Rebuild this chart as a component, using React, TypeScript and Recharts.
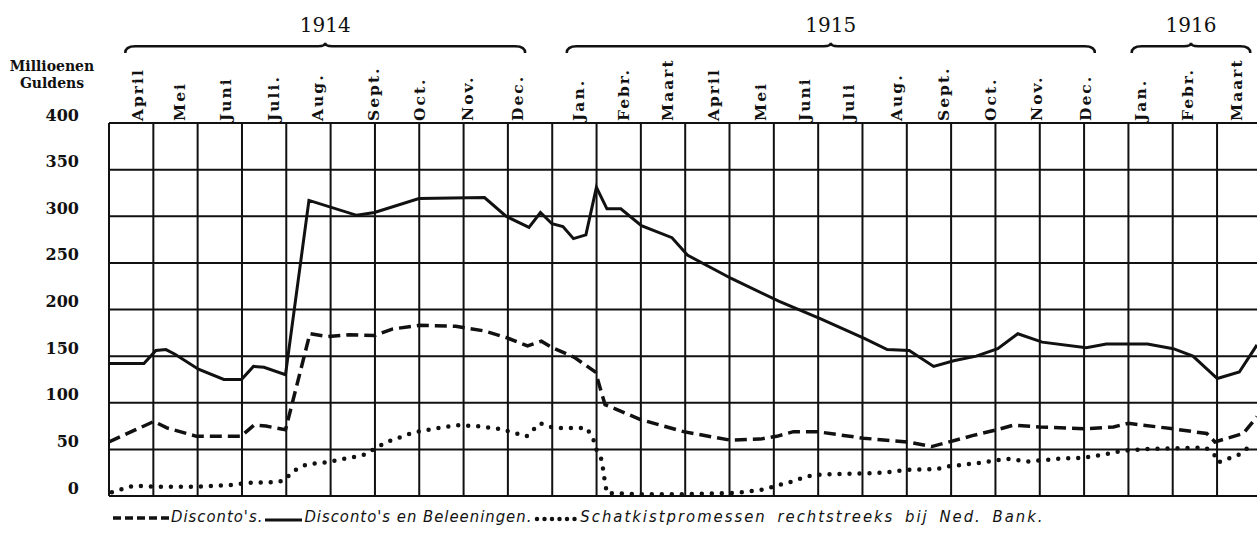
import React from 'react'
import {
  LineChart,
  Line,
  XAxis,
  YAxis,
  CartesianGrid,
  ReferenceLine,
  ReferenceArea,
} from 'recharts'

// t = months since 1 April 1914, v = millions of guilders
const disconto: [number, number][] = [
  [0, 58], [0.94, 80], [1.21, 73], [1.83, 64], [2.76, 64], [3.03, 76], [3.28, 75],
  [3.69, 71], [4.2, 174], [4.58, 171], [5.03, 173], [5.55, 172], [5.92, 179],
  [6.48, 183], [7.25, 182], [7.85, 177], [8.3, 170], [8.75, 161], [9.04, 166],
  [9.27, 159], [9.72, 149], [10.17, 133], [10.37, 98], [11.11, 82], [12.01, 69],
  [12.98, 60], [13.61, 61], [13.96, 64], [14.31, 69], [14.8, 69], [15.77, 62],
  [16.69, 58], [17.2, 53], [18.07, 65], [18.56, 71], [18.91, 76], [19.46, 74],
  [20.41, 72], [21.0, 74], [21.31, 78], [22.25, 72], [22.95, 67], [23.12, 58],
  [23.71, 67], [24, 85],
]

const discontoBeleeningen: [number, number][] = [
  [0, 142], [0.73, 142], [0.98, 156], [1.19, 157], [1.38, 152], [1.87, 136],
  [2.4, 125], [2.77, 125], [3.02, 139], [3.24, 138], [3.69, 130], [4.18, 317],
  [5.18, 301], [5.55, 304], [6.48, 319], [7.85, 320], [8.3, 300], [8.78, 288],
  [9.02, 304], [9.26, 292], [9.49, 289], [9.71, 276], [9.97, 280], [10.19, 331],
  [10.41, 308], [10.7, 308], [11.13, 290], [11.77, 277], [12.1, 258], [13.02, 233],
  [14.0, 209], [14.88, 190], [15.79, 169], [16.27, 157], [16.73, 156], [17.24, 139],
  [17.66, 145], [18.13, 150], [18.58, 158], [19.0, 174], [19.51, 165], [20.43, 159],
  [20.85, 163], [21.71, 163], [22.25, 158], [22.66, 150], [23.17, 126], [23.63, 133],
  [24, 162],
]

const schatkist: [number, number][] = [
  [0.06, 4], [0.51, 11], [0.96, 10], [1.83, 10], [2.6, 12], [2.88, 14], [3.51, 15],
  [3.68, 17], [3.82, 26], [4.13, 34], [4.55, 36], [5.32, 44], [5.53, 50], [5.81, 58],
  [6.36, 68], [6.78, 72], [7.3, 76], [7.69, 75], [8.17, 72], [8.52, 67], [8.73, 64],
  [9.01, 78], [9.29, 73], [9.99, 73], [10.13, 60], [10.2, 48], [10.3, 39], [10.37, 14],
  [10.41, 3], [11.1, 2], [12.08, 2], [12.91, 3], [13.26, 4], [13.68, 7], [14.24, 15],
  [14.59, 21], [14.87, 23], [15.63, 24], [16.19, 25], [16.69, 28], [17.3, 29],
  [17.58, 32], [18.28, 36], [18.77, 40], [19.19, 37], [19.88, 40], [20.37, 41],
  [20.86, 45], [21.14, 48], [21.56, 50], [22.11, 51], [22.92, 52], [23.09, 46],
  [23.19, 36], [23.61, 44], [23.92, 56],
]

const monthLabels = [
  'April', 'Mei', 'Juni', 'Juli.', 'Aug.', 'Sept.', 'Oct.', 'Nov.', 'Dec.',
  'Jan.', 'Febr.', 'Maart', 'April', 'Mei', 'Juni', 'Juli', 'Aug.', 'Sept.', 'Oct.', 'Nov.', 'Dec.',
  'Jan.', 'Febr.', 'Maart',
]
const monthPos = [
  0.59, 1.48, 2.43, 3.43, 4.35, 5.52, 6.5, 7.5, 8.55,
  9.81, 10.75, 11.67, 12.63, 13.61, 14.55, 15.45, 16.47, 17.44, 18.42, 19.4, 20.41,
  21.56, 22.54, 23.58,
]

const yTicks = [0, 50, 100, 150, 200, 250, 300, 350, 400]

const years = [
  { label: '1914', from: 0.34, to: 8.7 },
  { label: '1915', from: 9.57, to: 20.61 },
  { label: '1916', from: 21.38, to: 23.86 },
]

// the printed grid does not follow the months
const GRID_STEP = 0.9266
const gridCols = Array.from({ length: 26 }, (_, k) => +(k * GRID_STEP).toFixed(3))

const INK = '#111'
const SERIF = "'DejaVu Serif', 'Liberation Serif', serif"
const LEGEND_FONT = "'DejaVu Sans Condensed', 'DejaVu Sans', sans-serif"

const toRows = (pts: [number, number][]) => pts.map(([t, v]) => ({ t, v }))

function MonthTick(props: any) {
  const { x, y, index } = props
  return (
    <text
      transform={`translate(${x},${y}) rotate(-90)`}
      textAnchor="start"
      dominantBaseline="central"
      fontFamily={SERIF}
      fontWeight="bold"
      fontSize={15.5}
      letterSpacing={2}
      fill={INK}
    >
      {monthLabels[index]}
    </text>
  )
}

function ValueTick(props: any) {
  const { x, y, payload } = props
  return (
    <text
      x={x}
      y={y}
      dy={-8}
      textAnchor="end"
      dominantBaseline="central"
      fontFamily={SERIF}
      fontWeight="bold"
      fontSize={16}
      fill={INK}
    >
      {payload.value}
    </text>
  )
}

function Brace(props: any) {
  const { x, y, width, height, label } = props
  const x0 = x
  const x1 = x + width
  const top = y
  const bot = y + height
  const cx = (x0 + x1) / 2
  const mid = top + 3.5
  const d = `M${x0},${bot} Q${x0},${mid} ${x0 + 10},${mid} L${cx - 7},${mid} Q${cx},${mid} ${cx},${top} Q${cx},${mid} ${cx + 7},${mid} L${x1 - 10},${mid} Q${x1},${mid} ${x1},${bot}`
  return (
    <g>
      <path d={d} fill="none" stroke={INK} strokeWidth={2.5} />
      <text x={cx} y={top - 11} textAnchor="middle" fontFamily={SERIF} fontSize={20} fill={INK}>
        {label}
      </text>
    </g>
  )
}

function LegendItem({ kind }: { kind: 'dash' | 'solid' | 'dot' }) {
  const w = kind === 'dash' ? 57 : kind === 'solid' ? 37 : 44
  return (
    <svg width={w} height={10} style={{ margin: '0 2px', verticalAlign: 'baseline' }}>
      {kind === 'dash' && <line x1={1} y1={6} x2={w} y2={6} stroke={INK} strokeWidth={3.5} strokeDasharray="8 4" />}
      {kind === 'solid' && <line x1={0} y1={8} x2={w} y2={8} stroke={INK} strokeWidth={3} />}
      {kind === 'dot' && (
        <line x1={3} y1={7} x2={w} y2={7} stroke={INK} strokeWidth={4.5} strokeLinecap="round" strokeDasharray="0 7.5" />
      )}
    </svg>
  )
}

export default function App() {
  const textStyle: React.CSSProperties = {
    fontFamily: LEGEND_FONT,
    fontStyle: 'italic',
    fontSize: 16.5,
    letterSpacing: 1,
    color: INK,
  }
  return (
    <div style={{ position: 'absolute', left: 0, top: 0, width: 1257, height: 535, background: '#fff' }}>
      <LineChart width={1257} height={535} margin={{ top: 0, right: 0, bottom: 39, left: 0 }}>
        <CartesianGrid vertical={false} stroke={INK} strokeWidth={2} />
        <XAxis
          dataKey="t"
          type="number"
          orientation="top"
          domain={[0, 24]}
          allowDataOverflow
          ticks={monthPos}
          interval={0}
          height={123}
          tickSize={0}
          tickMargin={2}
          axisLine={false}
          tickLine={false}
          tick={MonthTick}
        />
        <YAxis
          type="number"
          domain={[0, 400]}
          ticks={yTicks}
          interval={0}
          width={109}
          tickSize={0}
          tickMargin={30}
          axisLine={false}
          tickLine={false}
          tick={ValueTick}
        />
        {gridCols.map((g) => (
          <ReferenceLine key={g} x={g} stroke={INK} strokeWidth={2} ifOverflow="visible" />
        ))}
        {years.map((yr) => (
          <ReferenceArea
            key={yr.label}
            x1={yr.from}
            x2={yr.to}
            y1={475}
            y2={486}
            ifOverflow="visible"
            shape={(p: any) => <Brace {...p} label={yr.label} />}
          />
        ))}
        <Line
          data={toRows(disconto)}
          dataKey="v"
          type="linear"
          stroke={INK}
          strokeWidth={3.5}
          strokeDasharray="12 6"
          dot={false}
          isAnimationActive={false}
        />
        <Line
          data={toRows(discontoBeleeningen)}
          dataKey="v"
          type="linear"
          stroke={INK}
          strokeWidth={3}
          dot={false}
          isAnimationActive={false}
        />
        <Line
          data={toRows(schatkist)}
          dataKey="v"
          type="linear"
          stroke={INK}
          strokeWidth={4.5}
          strokeLinecap="round"
          strokeDasharray="0 10"
          dot={false}
          isAnimationActive={false}
        />
      </LineChart>

      <div
        style={{
          position: 'absolute',
          left: 0,
          top: 58,
          width: 104,
          textAlign: 'center',
          fontFamily: SERIF,
          fontWeight: 'bold',
          fontSize: 14,
          lineHeight: '17px',
          color: INK,
        }}
      >
        Millioenen
        <br />
        Guldens
      </div>

      <div style={{ position: 'absolute', left: 110, top: 507, whiteSpace: 'nowrap', ...textStyle }}>
        <LegendItem kind="dash" />
        <span>Disconto's.</span>
        <LegendItem kind="solid" />
        <span>Disconto's en Beleeningen.</span>
        <LegendItem kind="dot" />
        <span style={{ letterSpacing: 2, wordSpacing: 4 }}>Schatkistpromessen rechtstreeks bij Ned. Bank.</span>
      </div>
    </div>
  )
}
